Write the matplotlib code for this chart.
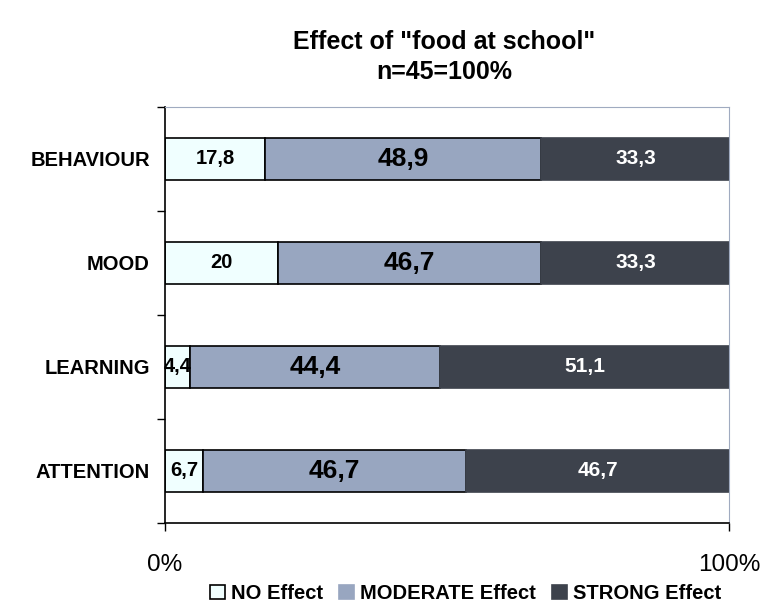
import numpy as np
import matplotlib.pyplot as plt

plt.rcParams["font.family"] = ["Liberation Sans", "DejaVu Sans"]

categories = ["BEHAVIOUR", "MOOD", "LEARNING", "ATTENTION"]
no_effect = [17.8, 20.0, 4.4, 6.7]
moderate = [48.9, 46.7, 44.4, 46.7]
strong = [33.3, 33.3, 51.1, 46.7]
no_labels = ["17,8", "20", "4,4", "6,7"]
mod_labels = ["48,9", "46,7", "44,4", "46,7"]
strong_labels = ["33,3", "33,3", "51,1", "46,7"]

c_no = "#f0ffff"
c_mod = "#98a6c0"
c_strong = "#3d424c"

fig = plt.figure(figsize=(7.63, 6.06), dpi=100)
ax = fig.add_axes([0.2163, 0.137, 0.7396, 0.6865])

y = np.arange(len(categories))[::-1]
h = 0.41
ax.barh(y, no_effect, height=h, color=c_no, edgecolor="black", linewidth=1.2, label="NO Effect")
ax.barh(y, moderate, left=no_effect, height=h, color=c_mod, edgecolor="black", linewidth=1.2,
        label="MODERATE Effect")
left2 = np.array(no_effect) + np.array(moderate)
ax.barh(y, strong, left=left2, height=h, color=c_strong, edgecolor=c_strong, linewidth=1.2,
        label="STRONG Effect")

# value labels in the middle of each segment
for yi, n, m, s, ln, lm, ls in zip(y, no_effect, moderate, strong, no_labels, mod_labels, strong_labels):
    ax.text(n / 2, yi, ln, ha="center", va="center", fontsize=14.5, fontweight="bold", color="black")
    ax.text(n + m / 2, yi, lm, ha="center", va="center", fontsize=19, fontweight="bold", color="black")
    ax.text(n + m + s / 2, yi, ls, ha="center", va="center", fontsize=15, fontweight="bold", color="white")

ax.set_xlim(0, 100)
ax.set_ylim(-0.5, len(categories) - 0.5)
ax.set_xticks([0, 100])
ax.set_xticklabels(["0%", "100%"], fontsize=17.5)
ax.tick_params(axis="x", direction="out", length=6, pad=16, width=1)

ax.set_yticks(y)
ax.set_yticklabels(categories, fontsize=14.5, fontweight="bold")
ax.tick_params(axis="y", length=0, pad=11)
# boundary ticks between categories
ax.set_yticks(np.arange(-0.5, len(categories)), minor=True)
ax.tick_params(axis="y", which="minor", direction="out", length=6, width=1)

for side in ["top", "right"]:
    ax.spines[side].set_color("#a0abc0")
for side in ["left", "bottom"]:
    ax.spines[side].set_color("black")
    ax.spines[side].set_linewidth(1.2)

fig.suptitle('Effect of "food at school"\nn=45=100%', fontsize=18, fontweight="bold",
             x=0.582, y=0.951, linespacing=1.35)

leg = ax.legend(loc="upper center", bbox_to_anchor=(0.533, -0.103), ncol=3, frameon=False,
                prop={"weight": "bold", "size": 14.5}, handlelength=0.75, handleheight=0.75,
                handletextpad=0.3, columnspacing=0.8)
# only the white box keeps an outline in the legend
for patch in leg.legend_handles[1:]:
    patch.set_edgecolor(patch.get_facecolor())

fig.savefig("out.png", dpi=100)
